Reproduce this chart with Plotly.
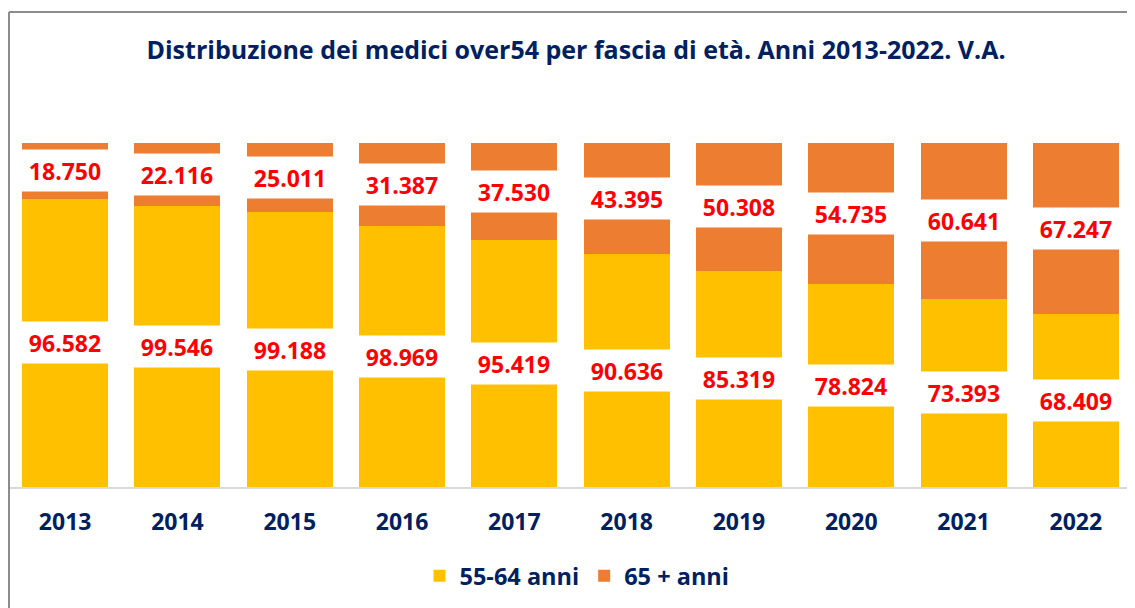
import plotly.graph_objects as go

years = [2013, 2014, 2015, 2016, 2017, 2018, 2019, 2020, 2021, 2022]
age_55_64 = [96582, 99546, 99188, 98969, 95419, 90636, 85319, 78824, 73393, 68409]
age_65_plus = [18750, 22116, 25011, 31387, 37530, 43395, 50308, 54735, 60641, 67247]
series_names = ["55-64 anni", "65 + anni"]

YELLOW = "#FFC000"
ORANGE = "#ED7D31"
RED = "#FF0000"
NAVY = "#002060"
FONT = "Open Sans"

def fmt(v):
    return f"{v:,}".replace(",", ".")

totals = [a + b for a, b in zip(age_55_64, age_65_plus)]
pct_a = [a / t * 100 for a, t in zip(age_55_64, totals)]
pct_b = [b / t * 100 for b, t in zip(age_65_plus, totals)]

fig = go.Figure()
fig.add_trace(go.Bar(x=years, y=pct_a, name=series_names[0], marker_color=YELLOW,
                     marker_line_width=0, hoverinfo="skip"))
fig.add_trace(go.Bar(x=years, y=pct_b, name=series_names[1], marker_color=ORANGE,
                     marker_line_width=0, hoverinfo="skip"))

annotations = []
for i, yr in enumerate(years):
    annotations.append(dict(x=yr, y=pct_a[i] / 2, text=fmt(age_55_64[i]), showarrow=False,
                            bgcolor="white", width=100, height=41, borderpad=0,
                            font=dict(family=FONT, size=23, color=RED, weight="bold")))
    annotations.append(dict(x=yr, y=pct_a[i] + pct_b[i] / 2, text=fmt(age_65_plus[i]), showarrow=False,
                            bgcolor="white", width=100, height=41, borderpad=0,
                            font=dict(family=FONT, size=23, color=RED, weight="bold")))

# page body has an 8px margin: figure coordinates = screen coordinates - 8
OFF = 8
W, H = 1127, 600
L, R, T, B = 1, 3, 135, 121
pw, ph = W - L - R, H - T - B
def px(x):
    return (x - OFF - L) / pw
def py(y):
    return (H - B - (y - OFF)) / ph

shapes = [
    dict(type="line", xref="paper", yref="paper", x0=px(9), x1=px(1135), y0=py(12), y1=py(12),
         line=dict(color="#8c8c8c", width=2)),
    dict(type="line", xref="paper", yref="paper", x0=px(9), x1=px(9), y0=py(12), y1=py(608),
         line=dict(color="#8c8c8c", width=2)),
]

fig.update_layout(
    width=W, height=H,
    barmode="stack",
    bargap=0.234,
    margin=dict(l=L, r=R, t=T, b=B, autoexpand=False),
    paper_bgcolor="white", plot_bgcolor="white",
    title=dict(text="Distribuzione dei medici over54 per fascia di età. Anni 2013-2022. V.A.",
               x=px(575), xanchor="center", y=1 - (50 - OFF) / H, yanchor="middle",
               font=dict(family=FONT, size=25, color=NAVY, weight="bold")),
    xaxis=dict(range=[years[0] - 0.5, years[-1] + 0.5], tickmode="array", tickvals=years,
               ticktext=[str(y) for y in years],
               showline=True, linecolor="#d9d9d9", linewidth=2, showgrid=False, zeroline=False,
               ticks="", ticklabelstandoff=13, automargin=False,
               tickfont=dict(family=FONT, size=23, color=NAVY, weight="bold")),
    yaxis=dict(range=[0, 100], visible=False, showgrid=False, automargin=False),
    legend=dict(orientation="h", x=px(577), xanchor="center", y=py(576), yanchor="middle",
                traceorder="normal",
                font=dict(family=FONT, size=23.5, color=NAVY, weight="bold"),
                itemwidth=30, tracegroupgap=0),
    annotations=annotations,
    shapes=shapes,
    showlegend=True,
)

fig.write_html("out.html")
